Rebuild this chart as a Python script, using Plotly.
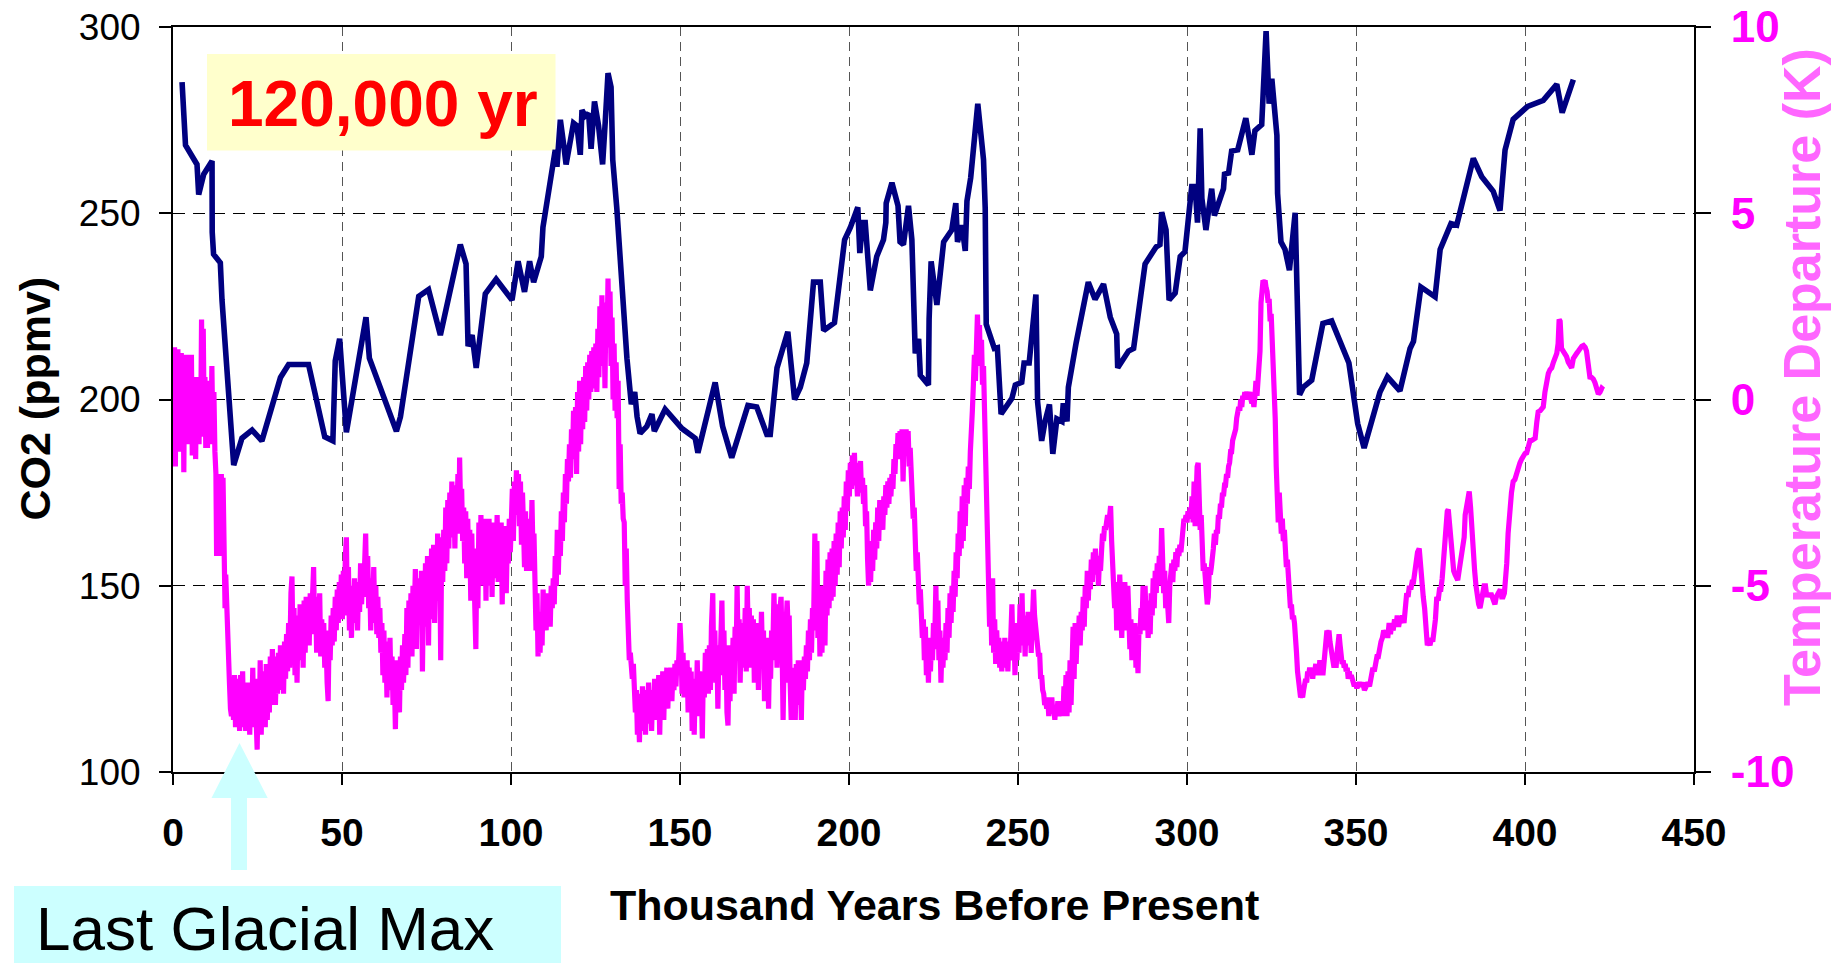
import plotly.graph_objects as go

# ---------------------------------------------------------------------------
# Vostok ice-core record: CO2 concentration and temperature departure
# ---------------------------------------------------------------------------

# CO2 (ppmv) against age in thousand years before present
co2_age_kyr = [
    2.68, 3.7, 7.1, 7.6, 9.1, 11.55, 11.6, 12.0, 14.0, 14.5,
    17.96, 20.4, 23.4, 26.3, 31.8, 34.2, 40.1, 44.9, 47.3, 48.0,
    49.3, 51.3, 57.1, 58.1, 66.1, 67.3, 72.7, 75.6, 79.1, 82.5,
    85.0, 86.7, 87.3, 88.5, 89.7, 92.4, 95.6, 100.3, 102.1, 104.0,
    105.5, 106.7, 108.96, 109.45, 111.1, 112.3, 113.1, 113.6, 114.6, 115.6,
    116.3, 118.5, 119.5, 120.5, 121.0, 122.0, 122.96, 123.7, 124.7, 125.9,
    127.1, 127.9, 128.7, 129.6, 130.1, 131.3, 132.8, 134.3, 135.6, 136.6,
    137.3, 138.2, 140.2, 141.7, 142.4, 145.6, 150.6, 154.5, 155.3, 160.4,
    162.6, 165.3, 170.1, 172.7, 175.7, 176.7, 178.7, 181.9, 183.9, 185.6,
    187.5, 189.5, 191.5, 192.5, 195.7, 198.7, 200.4, 202.6, 203.2, 204.0,
    204.8, 206.3, 208.2, 210.2, 210.9, 211.0, 212.7, 214.5, 215.1, 216.1,
    217.6, 218.6, 219.6, 220.6, 221.1, 223.5, 223.7, 224.3, 226.0, 228.0,
    230.4, 231.6, 232.1, 233.4, 234.4, 234.9, 236.0, 237.1, 238.1, 239.8,
    240.3, 240.6, 242.3, 243.0, 243.9, 245.0, 248.2, 249.2, 251.1, 251.8,
    253.3, 254.6, 255.3, 255.8, 257.0, 258.0, 259.3, 260.3, 261.5, 263.0,
    263.4, 264.5, 264.9, 267.2, 269.4, 270.8, 272.8, 275.3, 277.3, 279.2,
    279.5, 282.7, 284.2, 286.1, 287.6, 290.9, 292.0, 292.5, 293.8, 294.7,
    296.5, 298.0, 299.4, 301.4, 302.4, 303.1, 303.9, 304.4, 305.6, 307.3,
    308.1, 310.8, 311.1, 312.3, 313.2, 315.0, 317.4, 319.2, 320.1, 322.1,
    323.4, 324.3, 325.1, 326.6, 326.8, 327.8, 329.0, 330.3, 332.0, 333.3,
    334.4, 336.9, 340.2, 342.8, 347.9, 350.5, 352.4, 357.1, 359.3, 363.0,
    366.0, 367.0, 369.2, 373.4, 374.9, 378.1, 379.8, 384.7, 387.2, 390.6,
    392.6, 394.1, 396.5, 400.8, 405.4, 409.4, 411.0, 414.3,
]
co2_ppmv = [
    285.2, 268.3, 263.1, 255.0, 260.5, 264.0, 244.9, 239.0, 236.7, 226.7,
    182.4, 189.6, 191.8, 188.9, 205.9, 209.4, 209.4, 190.0, 188.9, 210.4,
    216.3, 191.2, 222.1, 211.1, 191.5, 195.4, 227.7, 229.5, 217.3, 231.2,
    241.6, 236.4, 214.3, 217.3, 208.5, 228.4, 232.3, 226.7, 237.1, 228.9,
    237.1, 231.5, 238.4, 246.2, 256.6, 263.1, 267.0, 262.5, 275.1, 268.3,
    263.1, 274.2, 273.5, 265.7, 277.7, 276.1, 276.8, 267.3, 280.0, 273.5,
    263.1, 274.8, 287.6, 283.9, 264.4, 251.4, 230.6, 211.1, 198.7, 202.0,
    195.4, 190.9, 192.8, 196.1, 191.5, 197.4, 192.2, 189.6, 185.7, 204.6,
    192.8, 184.4, 198.4, 198.0, 190.6, 190.6, 208.5, 218.2, 200.0, 203.3,
    209.8, 231.5, 231.5, 218.5, 220.6, 242.9, 246.2, 251.6, 239.3, 247.5,
    247.5, 229.3, 238.4, 242.9, 247.5, 252.7, 258.2, 252.0, 242.3, 241.6,
    252.0, 242.9, 212.4, 216.3, 206.5, 203.9, 221.5, 237.1, 225.4, 242.3,
    245.5, 252.7, 242.3, 246.8, 239.9, 253.3, 259.5, 269.6, 279.4, 264.4,
    251.4, 220.2, 215.6, 213.7, 213.9, 196.1, 200.3, 203.9, 204.6, 209.8,
    209.8, 220.2, 228.2, 199.3, 188.9, 194.1, 198.7, 185.4, 194.8, 194.1,
    199.0, 194.1, 203.3, 215.2, 225.4, 231.5, 226.9, 231.0, 222.1, 217.6,
    208.5, 213.0, 213.7, 225.4, 236.4, 241.0, 241.6, 250.3, 245.5, 226.7,
    228.6, 238.4, 239.7, 257.2, 257.2, 247.5, 272.8, 254.0, 245.5, 256.6,
    249.4, 256.6, 260.5, 260.8, 266.7, 267.0, 275.5, 265.7, 272.2, 273.8,
    298.9, 279.4, 286.1, 270.9, 255.3, 242.3, 240.3, 234.7, 250.1, 201.3,
    203.3, 205.2, 220.4, 221.1, 209.8, 193.5, 187.0, 202.0, 206.1, 202.3,
    213.7, 215.6, 230.2, 227.6, 240.3, 247.2, 246.8, 264.7, 259.8, 255.9,
    250.7, 267.0, 275.2, 278.7, 280.3, 284.6, 277.0, 285.9,
]

# Temperature departure (K) against age in thousand years before present
temp_age_kyr = [
    0.3, 0.45, 0.7, 0.95, 1.2, 1.45, 1.7, 1.95, 2.2, 2.45, 2.7, 2.95, 3.2, 3.45, 3.7, 3.95, 4.2, 4.45, 4.7, 4.95, 5.2, 5.45, 5.7, 5.95, 6.2, 6.45, 6.7, 6.95, 7.2, 7.45, 7.7, 7.95, 8.2, 8.45, 8.7, 8.95, 9.2, 9.45, 9.7, 9.95, 10.2, 10.45, 10.7, 10.95, 11.2, 11.5, 11.8, 12.1, 12.4,
    12.7, 12.9, 13.1, 13.3, 13.5, 13.7, 13.9, 14.1, 14.3, 14.5, 14.8, 15.0, 15.2, 15.4, 15.6, 15.9, 16.1, 16.4, 16.7, 17.0, 17.3,
    17.6, 17.9, 18.2, 18.5, 18.8, 19.1, 19.4, 19.7, 20.0, 20.3, 20.6, 20.9, 21.2, 21.5, 21.8, 22.1, 22.4, 22.7, 23.0, 23.3, 23.6, 23.9, 24.2, 24.6, 24.9, 25.2, 25.5, 25.8, 26.1, 26.4,
    26.7, 27.0, 27.3, 27.6, 27.9, 28.2, 28.5, 28.8, 29.1, 29.4, 29.7, 30.0, 30.3, 30.6, 30.9, 31.2, 31.5, 31.8, 32.1, 32.4, 32.7, 33.0, 33.3, 33.6, 33.9, 34.2, 34.5, 34.9, 35.2, 35.5,
    35.8, 36.1, 36.4, 36.7, 37.0, 37.3, 37.6, 37.9, 38.2, 38.5, 38.8, 39.1, 39.4, 39.7, 40.0, 40.3, 40.6, 40.9, 41.3, 41.6, 41.9,
    42.2, 42.5, 42.8, 43.1, 43.4, 43.7, 44.0, 44.3, 44.6, 44.9, 45.2, 45.6, 45.9, 46.2, 46.5, 46.8, 47.1, 47.4,
    47.7, 48.0, 48.3, 48.6, 48.9, 49.2, 49.5, 49.8, 50.1, 50.4, 50.7, 51.0, 51.3, 51.6, 51.9, 52.2,
    52.5, 52.8, 53.1, 53.4, 53.7, 54.0, 54.3, 54.6, 54.9, 55.2, 55.5, 55.8, 56.1, 56.4, 56.7, 57.0, 57.3, 57.6, 57.9,
    58.2, 58.5, 58.8, 59.1, 59.4, 59.7, 60.0, 60.3, 60.6, 60.9, 61.2,
    61.5, 61.8, 62.1, 62.4, 62.7, 63.0, 63.3, 63.6, 63.9, 64.2, 64.5, 64.8, 65.1, 65.4, 65.8, 66.1, 66.4, 66.7, 67.0, 67.3, 67.6, 67.9, 68.2, 68.6, 68.9,
    69.2, 69.5, 69.8, 70.1, 70.4, 70.7, 71.0, 71.3, 71.7, 72.0, 72.3, 72.6, 72.9, 73.2, 73.5, 73.8, 74.1, 74.4, 74.7, 75.0,
    75.3, 75.6, 75.9, 76.2, 76.5, 76.8, 77.1, 77.4, 77.7, 78.0, 78.3, 78.6, 78.9, 79.2, 79.5, 79.8, 80.1, 80.4,
    80.7, 81.0, 81.3, 81.6, 81.9, 82.2, 82.5, 82.8, 83.1, 83.4, 83.7, 84.0, 84.3, 84.6, 84.8, 85.1, 85.4, 85.7, 86.0, 86.3,
    86.6, 86.9, 87.2, 87.5, 87.8, 88.1, 88.4, 88.7, 89.0, 89.3, 89.6, 89.9, 90.2, 90.5, 90.8, 91.1, 91.4, 91.7,
    92.0, 92.3, 92.6, 92.9, 93.2, 93.5, 93.8, 94.1, 94.4, 94.7, 95.0, 95.3, 95.6, 95.9, 96.2, 96.5, 96.8, 97.1, 97.4, 97.7, 98.0, 98.3, 98.6, 98.9, 99.2, 99.5, 99.8,
    100.1, 100.4, 100.7, 101.0, 101.3, 101.6, 101.9, 102.2, 102.5, 102.8, 103.1, 103.4, 103.7, 104.0,
    104.3, 104.6, 104.9, 105.2, 105.5, 105.8, 106.2, 106.5, 106.8, 107.1,
    107.4, 107.7, 108.0, 108.3, 108.6, 108.9, 109.2, 109.5, 109.8, 110.1, 110.4, 110.7, 111.0, 111.3, 111.6, 111.9, 112.2, 112.5, 112.8, 113.1, 113.4, 113.7,
    114.0, 114.3, 114.6, 114.9, 115.2, 115.5, 115.8, 116.1, 116.4, 116.7, 117.0, 117.3, 117.6, 117.9, 118.2, 118.5, 118.8,
    119.1, 119.4, 119.7, 120.0, 120.3, 120.6, 120.9, 121.2, 121.5, 121.8, 122.1, 122.4, 122.7, 123.0, 123.3, 123.6, 123.9, 124.2, 124.5, 124.8,
    125.1, 125.4, 125.7, 126.0, 126.3, 126.6, 126.9, 127.2, 127.5, 127.8, 128.1, 128.4, 128.7, 129.0, 129.3, 129.6,
    129.9, 130.2, 130.5, 130.8, 131.1, 131.4, 131.7, 132.0, 132.3, 132.6, 132.9, 133.2, 133.5, 133.8, 134.1, 134.4, 134.7, 135.0, 135.3, 135.6, 135.9, 136.2, 136.5, 136.8, 137.1, 137.4, 137.7, 138.0,
    138.3, 138.6, 138.9, 139.2, 139.5, 139.8, 140.1, 140.4, 140.7, 141.0, 141.3, 141.6, 141.9, 142.2, 142.5, 142.8, 143.1, 143.4, 143.7, 144.0, 144.3, 144.6, 144.9, 145.2, 145.5, 145.8, 146.1, 146.4, 146.7, 147.0, 147.3, 147.6, 147.9, 148.2, 148.5, 148.8, 149.1, 149.4, 149.7,
    150.0, 150.3, 150.6, 150.9, 151.2, 151.5, 151.8, 152.1, 152.4, 152.7, 153.0, 153.3, 153.6, 153.9, 154.2, 154.5, 154.8, 155.1, 155.4, 155.7, 156.0, 156.3, 156.6, 156.9, 157.2, 157.5, 157.8, 158.1, 158.4, 158.7, 159.0, 159.3, 159.7, 160.0,
    160.3, 160.6, 160.9, 161.2, 161.5, 161.8, 162.1, 162.4, 162.7, 163.0, 163.3, 163.6, 163.9, 164.2, 164.5, 164.8, 165.1, 165.4, 165.7, 166.0, 166.3, 166.6, 166.9, 167.2, 167.5, 167.8, 168.1, 168.4, 168.7, 169.0, 169.3, 169.6,
    169.9, 170.2, 170.5, 170.8, 171.1, 171.4, 171.7, 172.0, 172.3, 172.6, 172.9, 173.2, 173.5, 173.8, 174.1, 174.4, 174.7, 175.0, 175.3, 175.6, 175.9, 176.2, 176.5, 176.8, 177.1, 177.4, 177.8, 178.1, 178.4, 178.7, 179.0, 179.3, 179.6, 179.9, 180.2, 180.5, 180.8, 181.1, 181.4,
    181.7, 182.0, 182.3, 182.6, 182.9, 183.2, 183.5, 183.8, 184.1, 184.4, 184.7, 185.0, 185.3, 185.6, 185.9, 186.2, 186.5, 186.8, 187.1, 187.4, 187.7, 188.0, 188.3, 188.6, 188.9, 189.2, 189.5, 189.9, 190.2, 190.5, 190.8, 191.1, 191.4, 191.7, 192.0, 192.3, 192.6, 192.9, 193.2, 193.5,
    193.8, 194.1, 194.4, 194.7, 195.0, 195.3, 195.6, 195.9, 196.2, 196.5, 196.8, 197.1, 197.4, 197.7, 198.0, 198.3, 198.6, 198.9, 199.2, 199.5, 199.8, 200.1, 200.4, 200.7, 201.0, 201.3, 201.6, 201.9,
    202.2, 202.5, 202.8, 203.1, 203.4, 203.7, 204.0, 204.3, 204.6, 204.9, 205.2, 205.5, 205.8, 206.1, 206.4, 206.7, 207.0, 207.3, 207.6, 207.9, 208.2, 208.5, 208.8, 209.1, 209.4, 209.7, 210.0, 210.3, 210.6, 210.9, 211.2, 211.5, 211.8, 212.1, 212.4, 212.7, 213.0, 213.3, 213.6, 213.9, 214.2,
    214.5, 214.8, 215.1, 215.4, 215.7, 216.0, 216.3, 216.6, 216.9, 217.2, 217.5, 217.8, 218.1, 218.4, 218.7, 219.0, 219.3, 219.6, 219.9, 220.2, 220.5, 220.8, 221.1, 221.4, 221.7, 222.0, 222.3, 222.6, 222.9, 223.2, 223.5, 223.8, 224.1, 224.4, 224.7, 225.0, 225.3, 225.7, 226.0, 226.3, 226.6, 226.9, 227.2, 227.5,
    227.8, 228.1, 228.4, 228.7, 229.0, 229.3, 229.6, 229.9, 230.2, 230.5, 230.8, 231.1, 231.4, 231.7, 232.0, 232.3, 232.6, 232.9, 233.2, 233.5, 233.8, 234.1, 234.4, 234.7, 235.0, 235.3, 235.6, 235.9, 236.2, 236.5, 236.8, 237.1, 237.4, 237.7, 238.0, 238.3, 238.6, 238.9, 239.2, 239.5, 239.8, 240.1, 240.4, 240.7, 241.0, 241.3, 241.6,
    241.9, 242.2, 242.5, 242.8, 243.1, 243.4, 243.7, 244.0, 244.3, 244.6, 244.9, 245.2, 245.5, 245.8, 246.1, 246.4, 246.7, 247.0, 247.3, 247.6, 247.9, 248.2, 248.5, 248.8, 249.1, 249.4, 249.7, 250.0, 250.3, 250.6, 250.9, 251.2, 251.5, 251.8, 252.1, 252.4, 252.7, 253.0, 253.3, 253.6, 253.9, 254.2, 254.6, 254.9, 255.2, 255.5, 255.8, 256.1, 256.4, 256.7, 257.0, 257.3, 257.6, 257.9, 258.2, 258.5,
    258.8, 259.1, 259.4, 259.7, 260.0, 260.3, 260.6, 260.9, 261.2, 261.5, 261.8, 262.1, 262.4, 262.7, 263.0, 263.3, 263.6, 263.9, 264.2, 264.5, 264.8, 265.1, 265.4, 265.7, 266.0, 266.3, 266.6, 266.9, 267.2, 267.5, 267.8, 268.1, 268.4, 268.7, 269.0, 269.3, 269.6, 269.9, 270.2, 270.5, 270.8, 271.1, 271.4, 271.7, 272.0, 272.3, 272.6, 272.9,
    273.2, 273.5, 273.8, 274.1, 274.4, 274.7, 275.0, 275.3, 275.6, 275.9, 276.2, 276.5, 276.8, 277.1, 277.4, 277.7, 278.0, 278.3, 278.6, 278.9, 279.2, 279.5, 279.8, 280.1, 280.4, 280.7, 281.0, 281.3, 281.6, 281.9, 282.2, 282.5, 282.8, 283.1, 283.4, 283.7, 284.0, 284.3, 284.6, 284.9, 285.2, 285.5, 285.8, 286.1, 286.4, 286.7, 287.0, 287.3, 287.6, 287.9, 288.2, 288.5, 288.8, 289.1, 289.4, 289.7, 290.0, 290.3, 290.6, 290.9, 291.2, 291.5, 291.8, 292.1, 292.5, 292.8, 293.1, 293.4, 293.7, 294.0, 294.3, 294.6, 294.9, 295.2, 295.5, 295.8, 296.1, 296.4, 296.7, 297.0, 297.3, 297.6, 297.9, 298.2, 298.5, 298.8, 299.1, 299.4,
    299.7, 300.0, 300.3, 300.6, 300.9, 301.2, 301.5, 301.8, 302.1, 302.4, 302.7, 303.0, 303.3, 303.6, 303.9, 304.2, 304.5, 304.8, 305.1, 305.4, 305.7, 306.0, 306.3, 306.6, 306.9, 307.2, 307.5, 307.8, 308.1, 308.4, 308.7, 309.0, 309.3, 309.6, 309.9, 310.2, 310.5, 310.8, 311.1, 311.4, 311.7, 312.0, 312.3, 312.6, 312.9, 313.2, 313.5, 313.8, 314.1, 314.4, 314.7, 315.0, 315.3, 315.6, 315.9, 316.2, 316.5, 316.8, 317.1, 317.4, 317.7, 318.0, 318.3, 318.6, 318.9, 319.2, 319.5, 319.8, 320.1,
    320.4, 320.7, 321.0, 321.3, 321.6, 321.9, 322.2, 322.5, 322.8, 323.1, 323.4, 323.7, 324.0, 324.3, 324.6, 324.9, 325.2, 325.5, 325.8, 326.1, 326.4, 326.7, 327.0, 327.3, 327.6, 327.9, 328.2, 328.5, 328.8, 329.1, 329.4, 329.7, 330.0, 330.3, 330.6, 330.9, 331.2, 331.5, 331.8, 332.1, 332.4, 332.7, 333.0, 333.3,
    333.6, 333.9, 334.2, 334.5, 334.8, 335.1, 335.4, 335.7, 336.0, 336.3, 336.6, 336.9, 337.2, 337.5, 337.8, 338.1, 338.4, 338.7, 339.0, 339.3, 339.6, 339.9, 340.2, 340.5, 340.8, 341.1, 341.4, 341.7, 342.0, 342.3, 342.6, 342.9, 343.2, 343.5, 343.8, 344.1, 344.4, 344.7, 345.0, 345.3, 345.6, 345.9, 346.2, 346.5, 346.8, 347.1, 347.4, 347.7, 348.0, 348.3, 348.6, 348.9, 349.2, 349.5, 349.8,
    350.1, 350.5, 351.0, 351.5, 352.0, 352.5, 353.0, 353.5, 354.0, 354.5, 355.0, 355.4, 355.8, 356.2, 356.6, 357.0, 357.4, 357.8, 358.2, 358.6, 359.0, 359.4, 359.8, 360.2, 360.6, 361.0, 361.4, 361.8, 362.2, 362.6, 363.0, 363.4, 363.8, 364.2, 364.6, 365.0, 365.4, 365.8, 366.2, 366.6, 367.0, 367.4, 367.8, 368.2, 368.7,
    369.1, 369.5, 369.9, 370.3, 370.7, 371.1, 371.5, 371.9, 372.3, 372.7, 373.1, 373.5, 373.9, 374.3, 374.7, 375.1, 375.5, 375.9, 376.3, 376.7, 377.0, 377.3, 377.7, 378.1, 378.5, 378.9, 379.3, 379.7, 380.1, 380.5, 380.9, 381.3, 381.7, 382.0, 382.3, 382.7, 383.1, 383.5, 383.9, 384.3, 384.7, 385.1, 385.5, 385.9, 386.3, 386.7, 387.1, 387.5, 387.9, 388.3, 388.7, 389.1, 389.5, 389.9, 390.3, 390.7, 391.1, 391.5, 391.9, 392.3, 392.7, 393.1, 393.5, 393.9, 394.3, 394.6,
    395.0, 395.3, 395.6, 396.0, 396.5, 397.0, 397.5, 398.0, 398.5, 399.0, 399.5, 400.0, 400.5, 401.0, 401.5, 402.0, 402.5, 403.0, 403.5, 403.9, 404.5, 405.0, 405.4, 405.9, 406.4, 406.9, 407.4, 407.9, 408.4, 408.9, 409.4, 409.8, 410.1, 410.4, 410.8, 411.3, 411.8, 412.3, 412.8, 413.3, 413.8, 414.3, 414.8, 415.3, 415.8, 416.3, 416.8, 417.3, 417.8, 418.2, 418.7, 419.2, 419.7, 420.2, 420.7, 421.2, 421.7, 422.2, 422.7, 423.2,
]
temp_dep_k = [
    0.5, 1.4, -1.8, 1.3, -0.6, 1.35, -1.0, 1.2, -1.4, 1.25, -0.3, 1.2, -1.95, 1.2, -0.8, 1.15, -1.0, 1.2, -1.2, 0.9, -0.2, 1.2, -1.5, 0.6, -1.0, 0.5, -1.6, 0.6, -0.9, 0.5, -1.2, 0.4, -0.6, 2.15, -1.0, 1.9, -0.4, 0.6, -1.3, 0.5, -1.3, 0.5, -0.8, 0.4, -1.2, 0.9, -1.0, 0.2, -1.4,
    -2.0, -4.2, -2.1, -3.5, -2.0, -4.2, -2.0, -3.0, -2.0, -3.8, -2.1, -3.6, -3.9, -5.6, -4.7, -5.7, -6.7, -6.6, -7.6, -8.3, -8.5,
    -7.7, -8.6, -7.4, -8.8, -7.5, -8.6, -7.6, -8.9, -7.4, -8.2, -7.3, -8.8, -7.7, -8.9, -7.6, -8.4, -7.9, -9.0, -7.6, -8.7, -7.2, -8.8, -7.5, -9.0, -9.4, -7.6, -8.8, -7.0, -9.0, -7.5,
    -8.6, -7.3, -8.8, -7.1, -8.6, -7.4, -8.4, -6.9, -8.2, -6.7, -8.0, -6.9, -8.2, -7.2, -7.9, -6.8, -7.8, -6.6, -7.6, -6.8, -7.9, -6.5, -7.5, -6.3, -7.3, -6.0, -7.2, -5.2, -4.75, -6.7,
    -5.6, -7.4, -6.0, -7.6, -5.8, -7.0, -5.5, -6.9, -5.6, -7.2, -5.4, -6.8, -5.3, -6.5, -5.6, -6.6, -5.2, -6.2, -4.9, -4.5, -6.3,
    -5.3, -6.8, -5.6, -6.4, -5.2, -6.9, -5.9, -6.8, -6.0, -7.2, -6.2, -7.6, -8.1, -6.2, -7.0, -5.8, -6.6, -5.6,
    -6.5, -5.3, -6.2, -5.1, -6.0, -4.9, -5.8, -4.7, -5.9, -4.6, -5.6, -4.2, -3.7, -5.8, -4.5, -6.2,
    -5.0, -6.4, -5.2, -6.0, -4.8, -5.9, -4.9, -6.2, -5.0, -5.7, -4.4, -5.5, -4.6, -5.2, -4.0, -3.6, -5.3, -4.2, -5.6,
    -4.8, -6.2, -4.9, -5.4, -4.5, -6.0, -5.0, -6.3, -5.3, -6.4, -5.6,
    -6.8, -6.0, -7.4, -6.2, -7.6, -6.5, -8.0, -6.6, -7.5, -6.4, -7.8, -6.9, -8.2, -7.0, -8.85, -7.2, -8.1, -7.0, -8.4, -6.9, -7.8, -6.6, -7.6, -6.3, -7.4,
    -5.6, -7.2, -5.4, -6.8, -5.2, -6.9, -5.0, -6.2, -4.55, -6.7, -5.0, -5.9, -4.8, -6.0, -4.6, -7.3, -5.1, -6.1, -4.4, -5.8,
    -4.2, -6.6, -4.3, -5.9, -4.0, -5.5, -3.9, -6.0, -4.1, -5.4, -3.6, -5.2, -3.9, -7.0, -3.7, -4.9, -3.5, -4.6,
    -2.9, -4.4, -2.7, -4.0, -2.5, -3.7, -2.2, -3.3, -2.6, -4.0, -2.3, -3.2, -2.0, -3.6, -1.56, -3.0, -2.4, -3.8, -2.9, -4.4,
    -3.0, -4.8, -3.2, -4.5, -3.5, -5.4, -3.6, -5.0, -4.2, -5.6, -6.7, -4.0, -5.6, -3.3, -4.8, -3.1, -5.0, -3.4,
    -4.6, -3.2, -5.4, -3.5, -4.4, -3.2, -5.0, -3.6, -5.3, -3.3, -4.8, -3.4, -4.3, -3.1, -4.9, -3.5, -4.1, -3.3, -5.5, -3.6, -4.6, -3.4, -5.2, -3.8, -4.4, -3.2, -4.1,
    -3.3, -2.4, -3.8, -2.2, -3.1, -1.9, -2.5, -2.0, -3.4, -2.2, -3.9, -2.5, -3.4, -4.5,
    -3.0, -4.6, -3.6, -4.2, -3.2, -4.6, -2.7, -4.1, -3.6, -4.9,
    -6.2, -5.2, -6.9, -5.9, -6.8, -5.7, -6.6, -5.1, -6.0, -5.3, -6.2, -5.2, -6.0, -5.4, -6.1, -5.0, -5.6, -4.8, -5.5, -4.2, -5.0, -3.5,
    -4.7, -3.6, -4.2, -3.0, -3.8, -2.5, -3.3, -2.0, -2.8, -1.6, -2.2, -1.2, -2.1, -0.8, -1.6, -0.3, -1.3,
    -0.2, -2.0, 0.2, -1.4, 0.5, -1.2, 0.4, -0.8, 0.6, -0.6, 0.9, -0.3, 1.0, 0.0, 1.2, 0.2, 1.3, 0.3, 1.4, 0.4,
    1.5, 0.2, 1.9, 0.6, 2.5, 0.9, 2.8, 1.0, 2.3, 0.3, 2.6, 1.4, 3.25, 1.8, 2.9, 0.9,
    2.2, 0.0, 1.5, -0.3, 1.0, -0.5, 0.5, -2.4, -1.2, -2.8, -2.5, -3.2, -3.3, -5.0, -4.0, -5.4, -5.9, -7.0, -6.8, -7.3, -7.5, -7.1, -7.8, -8.4, -7.8, -9.0, -8.3, -9.2,
    -7.9, -8.9, -7.7, -8.6, -7.9, -9.0, -7.8, -8.7, -7.6, -8.5, -7.9, -8.9, -7.8, -8.4, -7.5, -8.6, -7.7, -8.3, -7.4, -9.0, -7.6, -8.2, -7.3, -8.6, -7.4, -8.1, -7.2, -8.3, -7.3, -7.9, -7.2, -8.1, -7.3, -7.8, -7.1, -7.7, -7.0, -7.4, -6.8,
    -6.0, -6.6, -7.9, -6.8, -8.0, -7.1, -7.8, -7.0, -8.4, -7.2, -8.1, -7.3, -8.9, -7.5, -9.0, -7.7, -8.3, -7.0, -8.5, -7.3, -8.2, -7.4, -9.1, -7.3, -8.0, -6.8, -7.6, -6.7, -7.9, -6.6, -7.8, -6.1, -5.2, -7.4,
    -6.2, -7.6, -6.6, -8.3, -6.9, -7.4, -5.8, -5.4, -7.3, -6.2, -7.8, -6.6, -8.4, -8.75, -7.0, -8.1, -6.6, -7.4, -6.4, -7.9, -6.1, -7.0, -5.0, -6.8, -5.9, -7.6, -6.2, -7.2, -6.0, -6.8, -5.6, -7.3,
    -5.0, -6.4, -5.6, -7.2, -5.8, -6.8, -5.9, -7.6, -6.2, -7.0, -6.0, -7.8, -6.4, -7.2, -5.7, -6.9, -6.2, -8.1, -6.6, -7.4, -6.4, -8.3, -6.8, -7.5, -6.2, -7.0, -5.2, -6.3, -5.5, -7.2, -5.9, -6.8, -5.6, -5.3, -6.6, -8.6, -6.9, -7.6, -6.0,
    -5.4, -6.2, -5.8, -7.6, -8.6, -7.2, -8.4, -7.5, -8.6, -7.1, -8.2, -7.0, -8.0, -7.3, -8.6, -7.0, -7.8, -6.9, -7.5, -6.6, -7.3, -6.2, -7.0, -5.9, -6.8, -5.6, -6.2, -3.6, -5.9, -3.8, -6.4, -5.0, -6.9, -5.3, -6.8, -5.5, -5.0, -6.6, -4.6, -5.8,
    -4.3, -5.6, -4.1, -5.4, -4.0, -5.3, -3.8, -5.0, -3.6, -4.7, -3.3, -4.5, -3.0, -4.0, -2.9, -3.7, -2.6, -3.5, -2.2, -3.0, -1.9, -2.6, -1.7, -2.4, -1.5, -2.2, -1.43, -2.3,
    -2.0, -2.6, -1.7, -2.4, -1.65, -2.5, -2.1, -2.8, -2.3, -3.4, -3.0, -4.3, -5.0, -4.2, -4.9, -3.8, -4.6, -3.5, -4.3, -3.3, -4.0, -2.9, -3.8, -2.7, -3.5, -2.9, -3.5, -2.6, -3.1, -2.3, -2.9, -2.2, -2.8, -2.1, -2.6, -2.0, -2.4, -1.6, -2.0, -1.2, -1.6,
    -0.9, -1.6, -0.85, -1.4, -0.8, -2.2, -0.9, -1.5, -0.8, -1.3, -0.85, -1.8, -1.3, -2.3, -2.6, -3.2, -2.9, -4.2, -4.6, -4.1, -4.8, -5.5, -5.1, -6.0, -6.4, -5.9, -7.0, -6.1, -7.4, -6.6, -7.6, -6.4, -7.3, -6.5, -7.0, -6.0, -6.7, -5.0, -6.5, -5.4, -7.0, -6.2, -7.6, -6.6,
    -7.2, -6.4, -7.0, -6.0, -6.8, -5.6, -6.4, -5.2, -6.0, -5.0, -5.7, -4.6, -5.3, -4.1, -4.8, -3.6, -4.2, -3.0, -4.0, -2.6, -3.8, -2.3, -3.4, -2.1, -2.8, -1.8, -2.4, -1.4, -1.0, -0.3, 0.4, 1.2, 0.5, 2.1, 2.28, 1.3, 2.0, 0.9, 1.6, 0.4, 0.9, -0.3, -1.5, -3.3, -3.0, -4.6, -6.1,
    -5.0, -6.6, -4.8, -6.8, -5.9, -7.1, -6.2, -7.0, -6.4, -7.2, -6.6, -7.3, -6.5, -7.1, -6.4, -7.2, -6.6, -7.3, -6.5, -7.0, -6.3, -5.5, -6.8, -6.0, -7.4, -6.5, -7.0, -6.0, -6.8, -5.5, -6.4, -5.2, -6.6, -5.8, -6.9, -5.9, -6.5, -5.7, -6.6, -6.0, -6.8, -6.2, -5.1, -5.8, -6.2, -6.1, -6.7, -6.9, -6.8, -7.5, -7.4, -7.8, -7.9, -8.2, -8.1, -8.3,
    -8.0, -8.5, -8.2, -8.4, -8.0, -8.4, -8.3, -8.6, -8.2, -8.4, -8.1, -8.5, -8.3, -8.4, -8.1, -8.5, -7.7, -8.4, -7.4, -8.5, -7.3, -8.4, -7.0, -8.2, -7.3, -6.1, -7.5, -6.0, -7.1, -6.3, -6.6, -5.8, -6.6, -5.7, -6.2, -5.3, -6.1, -5.0, -5.6, -4.6, -5.4, -4.6, -5.1, -4.3, -4.9, -4.1, -4.6, -4.0,
    -4.7, -4.2, -5.0, -4.3, -4.6, -3.7, -3.6, -3.8, -3.4, -3.5, -3.3, -3.1, -3.4, -2.9, -2.86, -3.8, -4.6, -4.7, -5.6, -4.9, -6.2, -5.0, -5.8, -4.7, -5.9, -6.4, -5.2, -6.0, -4.9, -5.6, -6.2, -5.0, -5.8, -6.7, -5.9, -7.0, -6.2, -6.9, -6.0, -7.2, -6.5, -7.35, -6.1, -6.3, -5.6, -6.0, -5.0, -6.2, -5.0, -6.0, -5.4, -6.4, -5.9, -6.3, -5.2, -5.8, -4.8, -5.6, -4.6, -5.2, -4.4, -5.0, -4.2, -4.9, -3.45, -4.8, -5.2, -4.6, -5.6, -5.1, -5.9, -6.0, -5.0, -4.8, -4.4, -4.9, -4.3, -4.6, -4.1, -4.5, -4.0, -4.2, -3.9, -4.1, -3.6, -3.7, -3.2, -3.3,
    -3.1, -3.3, -3.0, -3.2, -2.9, -3.1, -2.6, -3.3, -2.2, -3.4, -2.4, -1.8, -1.7, -3.0, -3.5, -3.1, -3.8, -4.6, -4.4, -4.9, -5.2, -5.5, -5.3, -4.5, -4.7, -4.5, -4.3, -4.0, -3.6, -3.9, -3.5, -3.6, -3.1, -3.2, -2.8, -2.9, -2.5, -2.6, -2.3, -2.3, -2.0, -2.1, -1.8, -1.7, -1.4, -1.4, -1.1, -1.0, -0.9, -0.8, -0.5, -0.4, -0.2, -0.3, 0.0, -0.2, 0.1, 0.0, 0.2, 0.1, 0.2, 0.0, 0.2, 0.2, 0.0, -0.1, 0.0, -0.2, 0.1,
    0.5, 0.1, 0.6, 1.2, 1.3, 2.6, 3.0, 3.2, 3.1, 3.2, 3.0, 2.9, 2.6, 2.7, 2.1, 2.3, 1.6, 1.0, 0.1, -0.5, -1.8, -2.4, -3.3, -2.5, -3.1, -3.6, -3.2, -3.8, -3.5, -3.9, -4.5, -4.3, -5.0, -5.4, -5.6, -5.5, -5.9, -5.8, -6.0, -6.3, -6.8, -7.3, -7.7, -7.9,
    -8.0, -7.9, -8.0, -7.8, -7.7, -7.5, -7.6, -7.3, -7.4, -7.2, -7.4, -7.2, -7.5, -7.2, -7.3, -7.1, -7.4, -7.1, -7.4, -7.0, -7.3, -7.1, -7.4, -7.0, -6.8, -6.4, -6.2, -6.3, -6.2, -6.5, -6.7, -6.9, -7.0, -7.2, -6.9, -7.2, -6.8, -6.4, -6.3, -6.6, -6.9, -7.1, -7.0, -7.2, -7.1, -7.3, -7.2, -7.5, -7.3, -7.5, -7.4, -7.6, -7.6, -7.7, -7.6,
    -7.7, -7.7, -7.6, -7.7, -7.6, -7.8, -7.7, -7.6, -7.7, -7.5, -7.2, -7.3, -7.0, -6.9, -6.9, -6.6, -6.5, -6.4, -6.2, -6.3, -6.2, -6.4, -6.0, -6.3, -6.0, -6.2, -5.9, -6.1, -5.8, -6.1, -5.9, -6.0, -5.8, -6.0, -5.5, -5.2, -5.3, -5.0, -5.1, -4.9, -4.9, -4.6, -4.4, -4.1, -4.0,
    -4.5, -5.2, -5.3, -5.6, -6.5, -6.6, -6.5, -6.6, -6.4, -6.5, -6.2, -5.9, -5.3, -5.4, -5.1, -5.1, -4.8, -4.3, -3.7, -3.2, -3.0, -2.95, -3.4, -4.0, -4.3, -4.6, -4.7, -4.8, -4.85, -4.6, -4.3, -4.0, -3.8, -3.7, -3.1, -2.8, -2.6, -2.47, -2.9, -3.6, -4.0, -4.6, -5.0, -5.3, -5.5, -5.6, -5.3, -5.2, -5.0, -5.0, -5.3, -5.2, -5.3, -5.2, -5.3, -5.4, -5.5, -5.3, -5.2, -5.1, -5.1, -5.3, -5.3, -5.2, -4.8, -4.4,
    -3.6, -3.1, -2.8, -2.5, -2.2, -2.15, -2.0, -1.8, -1.7, -1.6, -1.5, -1.45, -1.43, -1.2, -1.1, -1.1, -1.05, -1.04, -0.6, -0.33, -0.3, -0.25, -0.2, 0.2, 0.59, 0.7, 0.8, 0.85, 1.0, 1.1, 1.24, 1.5, 2.15, 2.1, 1.37, 1.3, 1.25, 1.15, 1.0, 0.9, 0.85, 1.1, 1.2, 1.24, 1.3, 1.4, 1.43, 1.45, 1.4, 1.3, 0.9, 0.6, 0.59, 0.55, 0.45, 0.25, 0.15, 0.2, 0.3, 0.26,
]

assert len(co2_age_kyr) == len(co2_ppmv), (len(co2_age_kyr), len(co2_ppmv))
assert len(temp_age_kyr) == len(temp_dep_k), (len(temp_age_kyr), len(temp_dep_k))

age_ticks = [0, 50, 100, 150, 200, 250, 300, 350, 400, 450]
co2_ticks = [100, 150, 200, 250, 300]
temp_ticks = [-10, -5, 0, 5, 10]
temp_tick_labels = ["-10", "-5", "0", "5", "10"]

AGE_RANGE = [0, 450]
CO2_RANGE = [100, 300]
TEMP_RANGE = [-10, 10]

# ---------------------------------------------------------------------------
# Page geometry (pixels)
# ---------------------------------------------------------------------------
W, H = 1831, 963
M_L, M_R, M_T, M_B = 173, 137, 27, 191
PLOT_W = W - M_L - M_R
PLOT_H = H - M_T - M_B


def fx(px):
    """Horizontal pixel position -> paper fraction."""
    return (px - M_L) / PLOT_W


def fy(py):
    """Vertical pixel position (from top) -> paper fraction."""
    return (H - M_B - py) / PLOT_H


def px_to_age(px):
    return AGE_RANGE[0] + fx(px) * (AGE_RANGE[1] - AGE_RANGE[0])


def py_to_co2(py):
    return CO2_RANGE[0] + fy(py) * (CO2_RANGE[1] - CO2_RANGE[0])


FONT = "Liberation Sans, Arial, sans-serif"
NAVY = "#000080"
MAGENTA = "#FF00FF"
PALE_CYAN = "#CCFFFF"

fig = go.Figure()

fig.add_trace(go.Scatter(
    x=co2_age_kyr, y=co2_ppmv, mode="lines", name="CO2",
    line=dict(color=NAVY, width=5.6), yaxis="y",
))
fig.add_trace(go.Scatter(
    x=temp_age_kyr, y=temp_dep_k, mode="lines", name="Temperature",
    line=dict(color=MAGENTA, width=5.2), yaxis="y2",
))

fig.update_layout(
    width=W, height=H,
    margin=dict(l=M_L, r=M_R, t=M_T, b=M_B, pad=0, autoexpand=False),
    paper_bgcolor="white", plot_bgcolor="white",
    showlegend=False,
    xaxis=dict(
        range=AGE_RANGE, tickvals=age_ticks, ticks="outside", ticklen=11,
        tickwidth=1.5, tickcolor="black", automargin=False,
        showline=True, linecolor="black", linewidth=2, mirror=True,
        showgrid=True, gridcolor="#555555", gridwidth=1.3, griddash="9px,6px",
        zeroline=False,
        tickfont=dict(family=FONT, size=39, color="black", weight="bold"),
        ticklabelstandoff=14,
    ),
    yaxis=dict(
        range=CO2_RANGE, tickvals=co2_ticks, ticks="outside", ticklen=12,
        tickwidth=1.5, tickcolor="black", automargin=False,
        showline=True, linecolor="black", linewidth=2, mirror=False,
        showgrid=True, gridcolor="black", gridwidth=1.3, griddash="12px,8px",
        zeroline=False,
        tickfont=dict(family=FONT, size=37, color="black"),
        ticklabelstandoff=11,
    ),
    yaxis2=dict(
        range=TEMP_RANGE, tickvals=temp_ticks, ticktext=temp_tick_labels,
        overlaying="y", side="right", automargin=False,
        ticks="outside", ticklen=15, tickwidth=1.5, tickcolor="black",
        showline=True, linecolor="black", linewidth=2,
        showgrid=False, zeroline=False,
        tickfont=dict(family=FONT, size=44, color=MAGENTA, weight="bold"),
        ticklabelstandoff=11,
    ),
)

# Arrow pointing at the Last Glacial Maximum, and its caption box
arrow_path = "M {} {} L {} {} L {} {} L {} {} L {} {} L {} {} L {} {} Z".format(
    fx(239.5), fy(743),
    fx(267.7), fy(798),
    fx(247), fy(798),
    fx(247), fy(870),
    fx(231), fy(870),
    fx(231), fy(798),
    fx(211.5), fy(798),
)
fig.add_shape(
    type="path", xref="paper", yref="paper", layer="above",
    path=arrow_path, fillcolor=PALE_CYAN, line=dict(width=0),
)
fig.add_shape(
    type="rect", xref="paper", yref="paper", layer="above",
    x0=fx(14), x1=fx(561), y0=fy(975), y1=fy(886),
    fillcolor=PALE_CYAN, line=dict(width=0),
)

# Highlight box behind the "120,000 yr" label (above the grid, below the lines)
fig.add_shape(
    type="rect", xref="x", yref="y", layer="between",
    x0=px_to_age(207), x1=px_to_age(555.5),
    y0=py_to_co2(150.5), y1=py_to_co2(54),
    fillcolor="#FFFFCC", line=dict(width=0),
)

annotations = [
    dict(text="120,000 yr", x=fx(383), y=fy(103.5),
         font=dict(family=FONT, size=64, color="#FF0000", weight="bold")),
    dict(text="Last Glacial Max", x=fx(34), y=fy(928), xanchor="left",
         font=dict(family=FONT, size=62, color="black")),
    dict(text="CO2 (ppmv)", x=fx(34.5), y=fy(399), textangle=-90,
         font=dict(family=FONT, size=43, color="black", weight="bold")),
    dict(text="Temperature Departure (K)", x=fx(1802), y=fy(377), textangle=-90,
         font=dict(family=FONT, size=52, color="#FF66FF", weight="bold")),
    dict(text="Thousand Years Before Present", x=fx(934), y=fy(905),
         font=dict(family=FONT, size=43, color="black", weight="bold")),
]
for a in annotations:
    a.setdefault("xanchor", "center")
    fig.add_annotation(xref="paper", yref="paper", yanchor="middle",
                       showarrow=False, **a)

fig.write_html("out.html")
